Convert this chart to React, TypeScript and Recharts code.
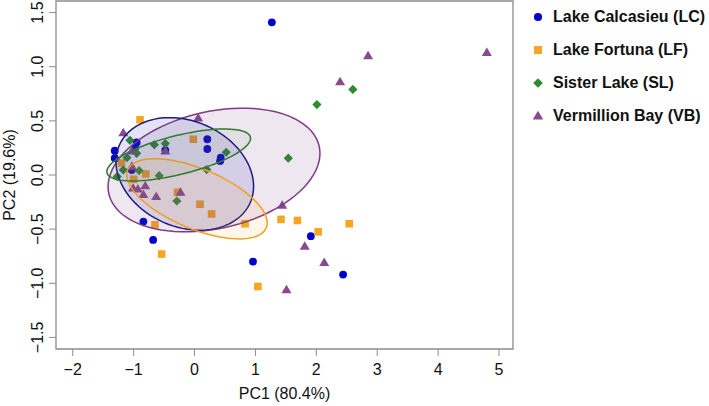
import { ScatterChart, Scatter, XAxis, YAxis, ReferenceArea, Legend } from "recharts";

// PCA scores, [PC1, PC2]
const lakeCalcasieu = [
  [1.27, 1.41], [1.91, -0.565], [2.44, -0.92], [0.96, -0.8], [-0.68, -0.6],
  [-0.84, -0.43], [-1.31, 0.225], [-1.31, 0.155], [-0.95, 0.3], [-0.98, 0.25],
  [-0.48, 0.23], [0.21, 0.33], [0.21, 0.24], [0.43, 0.16], [0.42, 0.13], [-1.03, 0.046],
];
const lakeFortuna = [
  [-0.895, 0.51], [-0.02, 0.33], [-1.2, 0.11], [-0.8, 0.01], [-1.0, -0.04],
  [-0.28, -0.16], [0.09, -0.27], [0.28, -0.36], [0.83, -0.45], [-0.65, -0.46],
  [-0.54, -0.73], [1.42, -0.41], [1.69, -0.42], [2.03, -0.525], [2.54, -0.45], [1.04, -1.03],
];
const sisterLake = [
  [-1.06, 0.32], [-0.66, 0.28], [-0.48, 0.29], [0.52, 0.21], [0.2, 0.05],
  [-1.11, 0.16], [-0.95, 0.2], [-0.91, 0.04], [-0.58, -0.006], [-1.27, -0.015],
  [-1.17, 0.046], [-0.29, -0.24], [1.54, 0.155], [2.01, 0.65], [2.6, 0.79],
];
const vermillionBay = [
  [0.06, 0.525], [-1.17, 0.39], [-0.48, 0.22], [-1.03, 0.22], [-1.03, 0.08],
  [-1.01, -0.12], [-0.93, -0.13], [-0.81, -0.1], [-0.84, -0.18], [-0.63, -0.2],
  [-0.23, -0.16], [1.44, -0.28], [1.81, -0.66], [2.13, -0.81], [1.51, -1.06],
  [2.39, 0.86], [2.85, 1.1], [4.8, 1.13],
];

// ellipse: centre, half spread on each axis, correlation
const ellipseLC = { cx: -0.16, cy: 0.01, sx: 1.13, sy: 0.52, rho: -0.22 };
const ellipseLF = { cx: 0.04, cy: -0.22, sx: 1.154, sy: 0.37, rho: -0.6 };
const ellipseSL = { cx: -0.26, cy: 0.185, sx: 1.18, sy: 0.24, rho: 0.64 };
const ellipseVB = { cx: 0.32, cy: 0.046, sx: 1.74, sy: 0.571, rho: 0.27 };

const xTicks = [-2, -1, 0, 1, 2, 3, 4, 5];
const yTicks = [-1.5, -1, -0.5, 0, 0.5, 1, 1.5];
const xDomain = [-2.275, 5.23];
const yDomain = [-1.607, 1.607];

const FONT = "'Liberation Sans', Arial, Helvetica, sans-serif";
const AXIS_GREY = "#8c8c8c";

const toPts = (arr: number[][]) => arr.map(([x, y]) => ({ x, y }));

const groups = [
  { name: "Lake Calcasieu (LC)", data: lakeCalcasieu, color: "#0000cd", kind: "circle" },
  { name: "Lake Fortuna (LF)", data: lakeFortuna, color: "#f5a623", kind: "square" },
  { name: "Sister Lake (SL)", data: sisterLake, color: "#2e8b2e", kind: "diamond" },
  { name: "Vermillion Bay (VB)", data: vermillionBay, color: "#874a8e", kind: "triangle" },
];

const ellipseStyles = [
  { e: ellipseVB, stroke: "#7e3c85", fill: "#7e3c85", op: 0.12 },
  { e: ellipseLC, stroke: "#1c1c80", fill: "#3c3cb4", op: 0.14 },
  { e: ellipseLF, stroke: "#f0a020", fill: "#f5a623", op: 0.1 },
  { e: ellipseSL, stroke: "#2e7a2e", fill: "#4a7a4a", op: 0.08 },
];

function Marker({ kind, cx, cy, color, s = 1 }: any) {
  if (kind === "circle") return <circle cx={cx} cy={cy} r={3.9 * s} fill={color} />;
  if (kind === "square") {
    const h = 3.8 * s;
    return <rect x={cx - h} y={cy - h} width={2 * h} height={2 * h} fill={color} />;
  }
  if (kind === "diamond") {
    const h = 4.6 * s;
    return <polygon points={`${cx},${cy - h} ${cx + h},${cy} ${cx},${cy + h} ${cx - h},${cy}`} fill={color} />;
  }
  const w = 5 * s;
  const h = 8.5 * s;
  return <polygon points={`${cx},${cy - h * 0.6} ${cx + w},${cy + h * 0.4} ${cx - w},${cy + h * 0.4}`} fill={color} />;
}

const makeShape = (kind: string, color: string) => (p: any) => (
  <Marker kind={kind} cx={p.cx} cy={p.cy} color={color} />
);

// draws an ellipse inside the area's box, tilted by the correlation
const makeEllipse = (rho: number, stroke: string, fill: string, op: number) => (p: any) => {
  const { x, y, width, height } = p;
  const cx = x + width / 2;
  const cy = y + height / 2;
  const hw = Math.abs(width) / 2;
  const hh = Math.abs(height) / 2;
  const k = Math.sqrt(1 - rho * rho);
  let d = "";
  for (let i = 0; i <= 90; i++) {
    const t = (i / 90) * Math.PI * 2;
    const px = cx + hw * Math.cos(t);
    const py = cy - hh * (rho * Math.cos(t) + k * Math.sin(t));
    d += (i === 0 ? "M" : "L") + px.toFixed(2) + "," + py.toFixed(2);
  }
  return <path d={d + "Z"} fill={fill} fillOpacity={op} stroke={stroke} strokeWidth={1.5} />;
};

const fmtMinus = (s: string) => s.replace("-", "\u2212");

function XTick({ x, y, payload }: any) {
  return (
    <text x={x} y={y + 19} textAnchor="middle" fontSize={16} fontFamily={FONT} fill="#111">
      {fmtMinus(String(payload.value))}
    </text>
  );
}

function YTick({ x, y, payload }: any) {
  return (
    <text
      transform={`translate(${x - 5.7},${y}) rotate(-90)`}
      textAnchor="middle"
      fontSize={16}
      fontFamily={FONT}
      fill="#111"
    >
      {fmtMinus(Number(payload.value).toFixed(1))}
    </text>
  );
}

function LegendBox() {
  return (
    <div style={{ fontFamily: FONT, fontWeight: "bold", fontSize: 16, color: "#111" }}>
      {groups.map((g) => (
        <div key={g.name} style={{ display: "flex", alignItems: "center", height: 33 }}>
          <svg width={22} height={20} style={{ marginRight: 1 }}>
            <Marker kind={g.kind} cx={8} cy={10} color={g.color} s={1.05} />
          </svg>
          <span>{g.name}</span>
        </div>
      ))}
    </div>
  );
}

export default function PcaScatter() {
  return (
    <div style={{ position: "absolute", left: 0, top: 0 }}>
      <ScatterChart width={709} height={406} margin={{ top: 1, right: 196, bottom: 0, left: 0 }}>
        <XAxis
          type="number"
          dataKey="x"
          domain={xDomain}
          ticks={xTicks}
          allowDataOverflow
          height={57}
          tickSize={7}
          tickMargin={0}
          axisLine={false}
          tickLine={{ stroke: AXIS_GREY }}
          tick={<XTick />}
          label={{
            content: (p: any) => (
              <text
                x={p.viewBox.x + p.viewBox.width / 2}
                y={p.viewBox.y + 50}
                textAnchor="middle"
                fontSize={16}
                fontFamily={FONT}
                fill="#111"
              >
                PC1 (80.4%)
              </text>
            ),
          }}
        />
        <YAxis
          type="number"
          dataKey="y"
          domain={yDomain}
          ticks={yTicks}
          allowDataOverflow
          width={56}
          tickSize={7}
          tickMargin={0}
          axisLine={false}
          tickLine={{ stroke: AXIS_GREY }}
          tick={<YTick />}
          label={{
            content: (p: any) => (
              <text
                transform={`translate(14.5,${p.viewBox.y + p.viewBox.height / 2}) rotate(-90)`}
                textAnchor="middle"
                fontSize={16}
                fontFamily={FONT}
                fill="#111"
              >
                PC2 (19.6%)
              </text>
            ),
          }}
        />
        {groups.map((g) => (
          <Scatter
            key={g.name}
            name={g.name}
            data={toPts(g.data)}
            fill={g.color}
            shape={makeShape(g.kind, g.color)}
            isAnimationActive={false}
          />
        ))}
        {ellipseStyles.map((s, i) => (
          <ReferenceArea
            key={i}
            x1={s.e.cx - s.e.sx}
            x2={s.e.cx + s.e.sx}
            y1={s.e.cy - s.e.sy}
            y2={s.e.cy + s.e.sy}
            zIndex={700}
            shape={makeEllipse(s.e.rho, s.stroke, s.fill, s.op)}
          />
        ))}
        <ReferenceArea
          x1={xDomain[0]}
          x2={xDomain[1]}
          y1={yDomain[0]}
          y2={yDomain[1]}
          fill="none"
          stroke={AXIS_GREY}
          strokeWidth={1.3}
          zIndex={800}
        />
        <Legend
          layout="vertical"
          align="center"
          verticalAlign="middle"
          wrapperStyle={{ left: 530, top: 0, width: 180 }}
          content={() => <LegendBox />}
        />
      </ScatterChart>
    </div>
  );
}
